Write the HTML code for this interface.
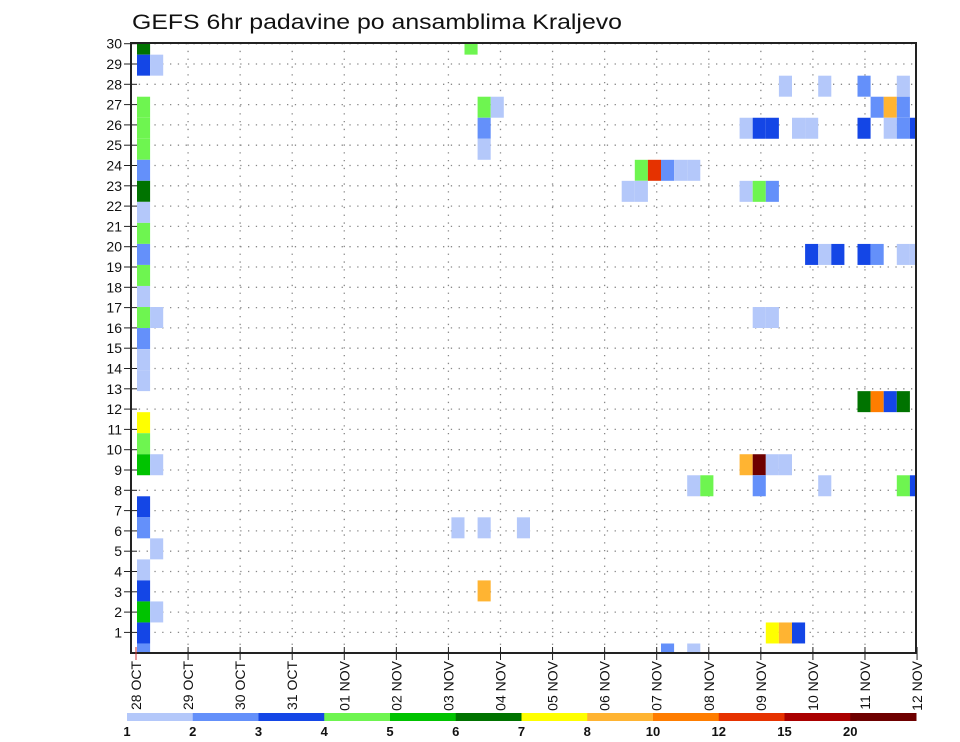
<!DOCTYPE html>
<html><head><meta charset="utf-8"><style>
body{margin:0;background:#fff;}
svg{display:block;font-family:"Liberation Sans",sans-serif;}
</style></head><body>
<svg id="chart" width="960" height="742" viewBox="0 0 960 742" xmlns="http://www.w3.org/2000/svg">
<text x="132" y="29" font-size="21" textLength="490" lengthAdjust="spacingAndGlyphs" fill="#111">GEFS 6hr padavine po ansamblima Kraljevo</text>
<g id="grid"></g>
<g id="cells"></g>
<rect x="131" y="43" width="785" height="610" fill="none" stroke="#222" stroke-width="2"/>
<g id="axes"></g>
<g id="colorbar"></g>
</svg>
<script>
const dayLabels=["28 OCT","29 OCT","30 OCT","31 OCT","01 NOV","02 NOV","03 NOV","04 NOV","05 NOV","06 NOV","07 NOV","08 NOV","09 NOV","10 NOV","11 NOV","12 NOV"];
const memberLabels=[1,2,3,4,5,6,7,8,9,10,11,12,13,14,15,16,17,18,19,20,21,22,23,24,25,26,27,28,29,30];
const levelLabels=["1","2","3","4","5","6","7","8","10","12","15","20"];
const levelColors=["#b4c8fa","#6490fa","#1446e6","#6ef550","#00c300","#007300","#ffff00","#ffb432","#ff7d00","#e63200","#aa0000","#6e0000"];
// cells: member row index, 6-hour step index, colour level (1..12)
const cellMember=[29,28,26,25,24,23,22,21,20,19,18,17,16,15,14,13,11,10,9,7,6,4,3,2,1,0,
 28,16,9,5,2, 29, 26,25,24,6,3, 26, 6,6,
 27,27,27,27, 26,26,26, 25,25,25,25,25,25,25,25,25,
 23,23,23,23,23, 22,22,22,22,22, 19,19,19,19,19,19,19, 16,16,
 12,12,12,12, 9,9,9,9, 8,8,8,8,8,8, 1,1,1, 0,0];
const cellStep=[0,0,0,0,0,0,0,0,0,0,0,0,0,0,0,0,0,0,0,0,0,0,0,0,0,0,
 1,1,1,1,1, 25, 26,26,26,26,26, 27, 24,29,
 49,52,55,58, 56,57,58, 46,47,48,50,51,55,57,58,59,
 38,39,40,41,42, 37,38,46,47,48, 51,52,53,55,56,58,59, 47,48,
 55,56,57,58, 46,47,48,49, 42,43,47,52,58,59, 48,49,50, 40,42];
const cellLevel=[6,3,4,4,4,2,6,1,4,2,4,1,4,2,1,1,7,4,5,3,2,1,3,5,3,2,
 1,1,1,1,1, 4, 4,2,1,1,8, 1, 1,1,
 1,1,2,1, 2,8,2, 1,3,3,1,1,3,1,2,3,
 4,10,2,1,1, 1,1,1,4,2, 3,1,3,3,2,1,1, 1,1,
 6,9,3,6, 8,12,1,1, 1,4,2,1,4,3, 7,8,3, 2,1];

const NS="http://www.w3.org/2000/svg";
const PL=131,PR=916,PT=43,PB=653;
function xDay(d){return 136+d*52.07;}
function yMember(v){return 43.7+(30-v)*20.3;}
function xStep(k){return 137+k*13.1;}
function yCell(j){return 654-j*21.03;}
function mk(tag,attrs,parent){const e=document.createElementNS(NS,tag);for(const a in attrs)e.setAttribute(a,attrs[a]);parent.appendChild(e);return e;}

const grid=document.getElementById('grid');
memberLabels.forEach(v=>{
  const y=yMember(v);
  const l=mk('line',{x1:PL,x2:PR,y1:y,y2:y,stroke:'#888','stroke-width':1.3,'stroke-dasharray':'1.3 6.5'},grid);
  
  
});
dayLabels.forEach((d,i)=>{
  if(i===0||i===dayLabels.length-1)return;
  const x=xDay(i);
  const l=mk('line',{x1:x,x2:x,y1:PT,y2:PB,stroke:'#888','stroke-width':1.3,'stroke-dasharray':'1.3 6.5'},grid);
  
  
});

const cells=document.getElementById('cells');
for(let i=0;i<cellMember.length;i++){
  const x=xStep(cellStep[i]);let x2=Math.min(x+13.1,PR);
  let yc=yCell(cellMember[i]);let y1=Math.max(yc-10.5,PT),y2=Math.min(yc+10.5,PB);
  const r=mk('rect',{x:x,y:y1,width:x2-x,height:y2-y1,fill:levelColors[cellLevel[i]-1]},cells);
  
  
}

const axes=document.getElementById('axes');
memberLabels.forEach(v=>{
  const y=yMember(v);
  const t=mk('line',{x1:124,x2:137,y1:y,y2:y,stroke:'#222','stroke-width':1},axes);
  
  
  const tx=mk('text',{x:122,y:y+5,'font-size':14,'text-anchor':'end',fill:'#111'},axes);
  tx.textContent=v;
  
  
});
dayLabels.forEach((d,i)=>{
  const x=xDay(i);
  const t=mk('line',{x1:x,x2:x,y1:647,y2:660,stroke:i===0?'#c33':'#222','stroke-width':1},axes);
  
  
  const tx=mk('text',{x:0,y:0,'font-size':14,'text-anchor':'end',fill:'#111',transform:`translate(${x+5},661) rotate(-90)`},axes);
  tx.textContent=d;
  
  
});

const cb=document.getElementById('colorbar');
const cbL=127,cbW=(916-127)/levelColors.length;
levelColors.forEach((c,i)=>{
  const r=mk('rect',{x:cbL+i*cbW,y:713,width:cbW+0.5,height:8,fill:c},cb);
  
  
});
levelLabels.forEach((s,i)=>{
  const t=mk('text',{x:cbL+i*cbW,y:736,'font-size':13,'font-weight':'bold','text-anchor':'middle',fill:'#111'},cb);
  t.textContent=s;
  
  
});
</script>
</body></html>
